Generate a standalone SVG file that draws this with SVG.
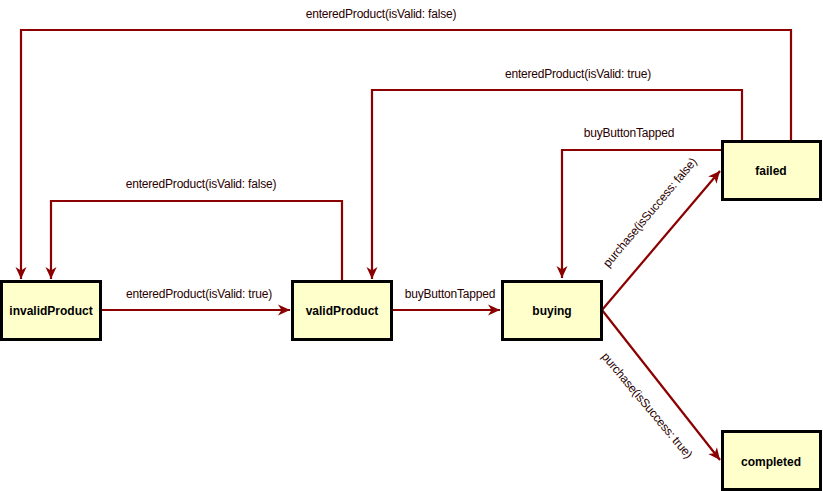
<svg xmlns="http://www.w3.org/2000/svg" width="823" height="491" viewBox="0 0 823 491">
<style>
.node rect{fill:#FFFFCC;stroke:#000;stroke-width:3}
.node text{font-family:"Liberation Sans",Arial,sans-serif;font-size:12px;font-weight:bold;fill:#000;text-anchor:middle}
.edge{fill:none;stroke:#8B0000;stroke-width:2.2}
.lbl{font-family:"Liberation Sans",Arial,sans-serif;font-size:12px;fill:#2a0000;text-anchor:middle;letter-spacing:-0.2px}
</style>
<defs>
<marker id="arr" markerUnits="userSpaceOnUse" markerWidth="13" markerHeight="13" viewBox="0 0 13 13" refX="12" refY="6.5" orient="auto">
<path d="M0,1 L12,6.5 L0,12 L3.5,6.5 z" fill="#8B0000"/>
</marker>
</defs>
<rect width="823" height="491" fill="#fff"/>
<g id="connectors">
<path class="edge" d="M101,310 L290,310" marker-end="url(#arr)"/>
<path class="edge" d="M392,310 L500,310" marker-end="url(#arr)"/>
<path class="edge" d="M342,280 V201 H51 V279" marker-end="url(#arr)"/>
<path class="edge" d="M791,140 V30 H21 V279" marker-end="url(#arr)"/>
<path class="edge" d="M742,140 V90 H372 V279" marker-end="url(#arr)"/>
<path class="edge" d="M721,150 H562 V278" marker-end="url(#arr)"/>
<path class="edge" d="M602,310 L720,171" marker-end="url(#arr)"/>
<path class="edge" d="M602,310 L720,460" marker-end="url(#arr)"/>
<text class="lbl" x="199" y="298">enteredProduct(isValid: true)</text>
<text class="lbl" x="450" y="298">buyButtonTapped</text>
<text class="lbl" x="201" y="188">enteredProduct(isValid: false)</text>
<text class="lbl" x="381" y="18">enteredProduct(isValid: false)</text>
<text class="lbl" x="578" y="78">enteredProduct(isValid: true)</text>
<text class="lbl" x="629" y="137">buyButtonTapped</text>
<text class="lbl" transform="translate(653,215) rotate(-50)">purchase(isSuccess: false)</text>
<text class="lbl" transform="translate(644,408) rotate(50)">purchase(isSuccess: true)</text>
</g>
<g id="invalidProduct" class="node">
<rect x="1.5" y="281.5" width="99" height="58"/>
<text x="51" y="315">invalidProduct</text>
</g>
<g id="validProduct" class="node">
<rect x="292.5" y="281.5" width="99" height="58"/>
<text x="342" y="315">validProduct</text>
</g>
<g id="buying" class="node">
<rect x="502.5" y="281.5" width="99" height="58"/>
<text x="552" y="315">buying</text>
</g>
<g id="failed" class="node">
<rect x="722.5" y="141.5" width="98" height="58"/>
<text x="771" y="175">failed</text>
</g>
<g id="completed" class="node">
<rect x="722.5" y="431.5" width="98" height="58"/>
<text x="771" y="466">completed</text>
</g>
</svg>
